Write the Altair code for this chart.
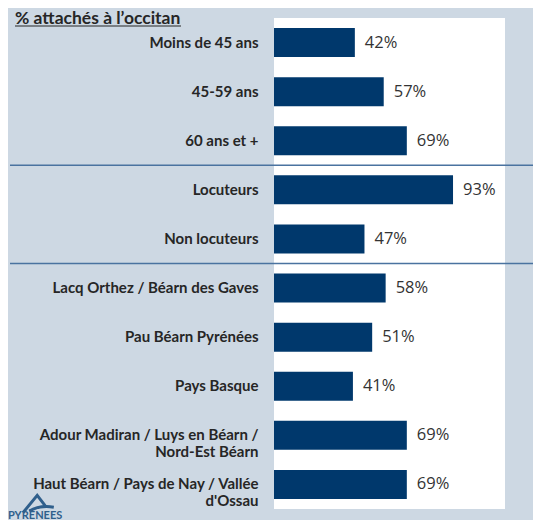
import altair as alt
import pandas as pd

categories = [
    "Moins de 45 ans",
    "45-59 ans",
    "60 ans et +",
    "Locuteurs",
    "Non locuteurs",
    "Lacq Orthez / Béarn des Gaves",
    "Pau Béarn Pyrénées",
    "Pays Basque",
    "Adour Madiran / Luys en Béarn /\nNord-Est Béarn",
    "Haut Béarn / Pays de Nay / Vallée\nd'Ossau",
]
values = [42, 57, 69, 93, 47, 58, 51, 41, 69, 69]
separators_before = ["Locuteurs", "Lacq Orthez / Béarn des Gaves"]
title_text = "% attachés à l’occitan"
logo_text = "PYRENEES"

df = pd.DataFrame({"cat": categories, "v": values})
sep_df = pd.DataFrame({"cat": separators_before})

BG = "#cdd8e3"
BAR = "#00386c"
SEP = "#4a73a0"
TXT = "#262626"
LOGO = "#2f5f8c"

yscale = alt.Scale(domain=categories, paddingInner=0, paddingOuter=0)
xscale = alt.Scale(domain=[0, 120], nice=False)

base = alt.Chart(df)

bars = base.mark_bar(color=BAR, height=alt.RelativeBandSize(0.59)).encode(
    y=alt.Y("cat:N", scale=yscale, sort=categories,
            axis=alt.Axis(title=None, domain=False, ticks=False, grid=False,
                          labelFont="Lato", labelFontSize=15, labelFontWeight="bold",
                          labelColor=TXT, labelPadding=16, labelAlign="right",
                          labelLimit=300, labelLineHeight=17,
                          labelExpr="split(datum.label, '\\n')")),
    x=alt.X("v:Q", scale=xscale, axis=None),
)

labels = base.transform_calculate(lbl="datum.v + '%'").mark_text(
    align="left", baseline="middle", dx=10, font="Open Sans", fontSize=16.5, color="#333333"
).encode(
    y=alt.Y("cat:N", scale=yscale, sort=categories),
    x=alt.X("v:Q", scale=xscale),
    text="lbl:N",
)

seps = alt.Chart(sep_df).mark_rule(color=SEP, strokeWidth=1.5).encode(
    y=alt.Y("cat:N", scale=yscale, sort=categories, bandPosition=0),
    x=alt.value(-264),
    x2=alt.value(267),
)

title = alt.Chart(pd.DataFrame({"t": [title_text]})).mark_text(
    align="left", baseline="alphabetic", font="Lato", fontSize=17.5,
    fontWeight="bold", color=TXT
).encode(x=alt.value(-259), y=alt.value(5.5), text="t:N")

underline = alt.Chart(pd.DataFrame({"t": [title_text]})).mark_rule(
    color=TXT, strokeWidth=1.2
).encode(x=alt.value(-259), x2=alt.value(-93), y=alt.value(8))

logo_mark = alt.Chart(pd.DataFrame({"t": [logo_text]})).mark_point(
    shape="M-0.95,0.55 L-0.05,-0.55 L0.45,0.1 M-0.55,0.45 Q0.1,0.05 1,0.2",
    filled=False, color=LOGO, strokeWidth=3, size=1000, opacity=1
).encode(x=alt.value(-236), y=alt.value(486))

logo = alt.Chart(pd.DataFrame({"t": [logo_text]})).mark_text(
    align="left", baseline="middle", font="Lato", fontSize=11,
    fontWeight="bold", color=LOGO
).encode(x=alt.value(-266), y=alt.value(498), text="t:N")

chart = alt.layer(bars, labels, seps, title, underline, logo_mark, logo).properties(
    width=231,
    height=491,
    background=BG,
    padding={"left": 266, "top": 10, "right": 28, "bottom": 11},
    autosize=alt.AutoSizeParams(type="none"),
).configure_view(fill="white", strokeWidth=0)

chart.save("out.html", embed_options={"renderer": "svg", "actions": False})
